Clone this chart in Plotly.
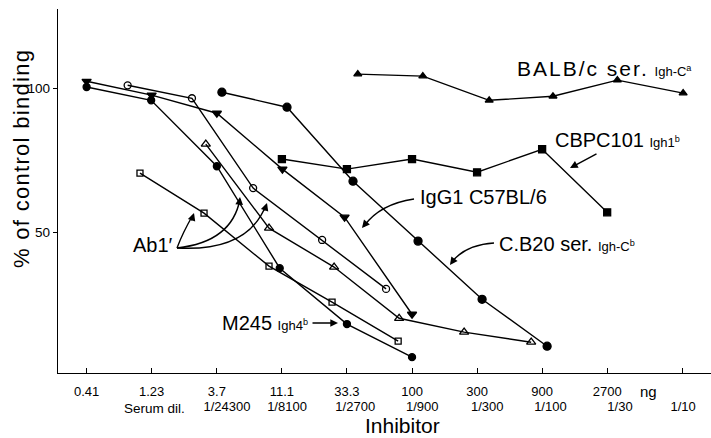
import plotly.graph_objects as go

# ---- data (x = inhibitor, ng, log scale; y = % of control binding) ----
m245_x = [0.41, 1.22, 3.7, 10.7, 33.3, 100]
m245_y = [100.5, 95.9, 73.0, 37.6, 18.2, 6.7]

igg1_x = [0.41, 1.23, 3.7, 11.2, 32.0, 100]
igg1_y = [102.5, 97.7, 91.4, 72.0, 55.3, 21.6]

ab1_circ_x = [0.82, 2.43, 6.83, 21.9, 64.5]
ab1_circ_y = [101.1, 96.6, 65.4, 47.4, 30.4]

ab1_tri_x = [3.07, 8.93, 26.8, 80.4, 241, 748]
ab1_tri_y = [80.7, 51.5, 38.0, 20.2, 15.4, 11.9]

ab1_sq_x = [1.01, 2.98, 8.93, 25.9, 79.1]
ab1_sq_y = [70.6, 56.7, 38.3, 25.8, 12.3]

cb20_x = [4.03, 12.1, 36.9, 110.7, 326.5, 979]
cb20_y = [98.7, 93.5, 67.8, 47.0, 26.8, 10.5]

cbpc_x = [11.1, 33.3, 100, 300, 900, 2700]
cbpc_y = [75.5, 72.0, 75.5, 70.9, 78.9, 57.0]

balb_x = [40.0, 120, 368, 1081, 3207, 9742]
balb_y = [105.0, 104.3, 95.9, 97.3, 102.9, 98.4]

ng_ticks = [0.41, 1.23, 3.7, 11.1, 33.3, 100, 300, 900, 2700, 9700]
ng_labels = ["0.41", "1.23", "3.7", "11.1", "33.3", "100", "300", "900", "2700", ""]
dil_ticks = [4.39, 12.1, 38.3, 118.7, 356, 1035, 3352, 9740]
dil_labels = ["1/24300", "1/8100", "1/2700", "1/900", "1/300", "1/100", "1/30", "1/10"]
y_ticks = [50, 100]

FONT = "Liberation Sans"
W, H = 711, 438
L, R, T, B = 58, 0, 9, 65
PW, PH = W - L - R, H - T - B


def P(px, py):
    return (px - L) / PW, (H - B - py) / PH


fig = go.Figure()


def add(x, y, symbol, size, lw=1.3):
    fig.add_trace(go.Scatter(
        x=x, y=y, mode="lines+markers",
        line=dict(color="black", width=1.4),
        marker=dict(symbol=symbol, size=size, color="black",
                    line=dict(color="black", width=lw)),
        showlegend=False, hoverinfo="skip"))


add(m245_x, m245_y, "circle", 7)
add(igg1_x, igg1_y, "triangle-down", 8)
add(ab1_circ_x, ab1_circ_y, "circle-open", 7)
add(ab1_tri_x, ab1_tri_y, "triangle-up-open", 8)
add(ab1_sq_x, ab1_sq_y, "square-open", 6)
add(cb20_x, cb20_y, "circle", 8)
add(cbpc_x, cbpc_y, "square", 7)
add(balb_x, balb_y, "triangle-up", 7)

# invisible trace for second x axis (dilution labels)
fig.add_trace(go.Scatter(x=[dil_ticks[0]], y=[50], xaxis="x2", mode="markers",
                         marker=dict(opacity=0), showlegend=False, hoverinfo="skip"))

ann = []


def label(px, py, text, size=20):
    x, y = P(px, py)
    ann.append(dict(x=x, y=y, xref="paper", yref="paper", text=text, showarrow=False,
                    xanchor="left", yanchor="middle", font=dict(family=FONT, size=size, color="black")))


def small(t):
    return "<span style='font-size:13px'>" + t + "</span>"


label(515, 69, "<span style='letter-spacing:2px'>BALB/c ser.</span> " + small("Igh-C<sup>a</sup>"), 21)
label(553, 140, "CBPC101 " + small("Igh1<sup>b</sup>"))
label(418, 197, "IgG1 C57BL/6")
label(497, 244, "C.B20 ser. " + small("Igh-C<sup>b</sup>"))
label(220, 323, "M245 " + small("Igh4<sup>b</sup>"))
label(131, 245, "Ab1\u2032")

# axis texts
for px, py, t, s in [(648, 391, "ng", 15), (154, 408, "Serum dil.", 13.5),
                     (402, 425, "Inhibitor", 21)]:
    x, y = P(px, py)
    ann.append(dict(x=x, y=y, xref="paper", yref="paper", text=t, showarrow=False,
                    xanchor="center", yanchor="middle", font=dict(family=FONT, size=s, color="black")))
x, y = P(21, 159)
ann.append(dict(x=x, y=y, xref="paper", yref="paper",
                text="<span style='letter-spacing:1.3px'>% of control binding</span>", textangle=-90,
                showarrow=False, xanchor="center", yanchor="middle",
                font=dict(family=FONT, size=22, color="black")))


def head(px, py, ax, ay):
    x, y = P(px, py)
    ann.append(dict(x=x, y=y, xref="paper", yref="paper", text="", showarrow=True,
                    ax=ax, ay=ay, arrowhead=2, arrowsize=1.1, arrowwidth=1.4, arrowcolor="black"))


shapes = []


def curve(p0, c, p1):
    x0, y0 = P(*p0)
    cx, cy = P(*c)
    x1, y1 = P(*p1)
    shapes.append(dict(type="path", xref="paper", yref="paper",
                       path=f"M {x0},{y0} Q {cx},{cy} {x1},{y1}",
                       line=dict(color="black", width=1.4)))


# Ab1' arrows
curve((177, 248), (183, 232), (193, 215))
head(194, 213, -3, 9)
curve((177, 248), (232, 242), (240, 199))
head(240, 197, -1, 9)
curve((177, 248), (248, 252), (266, 205))
head(267, 203, -3, 9)
# IgG1 arrow
curve((414, 199), (380, 204), (364, 226))
head(362, 228, 5, -6)
# CBPC101 arrow
head(570, 168, 28, -15)
# C.B20 arrow
curve((494, 243), (465, 245), (452, 262))
head(450, 265, 5, -7)
# M245 arrow
head(338, 323, -27, 0)

fig.update_layout(
    width=W, height=H, margin=dict(l=L, r=R, t=T, b=B),
    paper_bgcolor="white", plot_bgcolor="white",
    font=dict(family=FONT, size=13, color="black"),
    xaxis=dict(type="log", range=[-0.597, 4.193], tickvals=ng_ticks, ticktext=ng_labels,
               ticks="inside", ticklen=5, tickwidth=1.4, tickcolor="black",
               showline=True, linecolor="black", linewidth=1.4, showgrid=False, zeroline=False,
               tickfont=dict(family=FONT, size=13), ticklabelstandoff=6),
    xaxis2=dict(type="log", range=[-0.597, 4.193], overlaying="x", side="bottom", anchor="y",
                tickvals=dil_ticks, ticktext=dil_labels, ticks="", showline=False,
                showgrid=False, zeroline=False, tickfont=dict(family=FONT, size=13),
                ticklabelstandoff=24),
    yaxis=dict(range=[1.2, 127.6], tickvals=y_ticks, ticks="outside", ticklen=4, tickwidth=1.4,
               tickcolor="black", showline=True, linecolor="black", linewidth=1.4,
               showgrid=False, zeroline=False, tickfont=dict(family=FONT, size=13.5)),
    annotations=ann, shapes=shapes,
)

fig.write_html("out.html")
